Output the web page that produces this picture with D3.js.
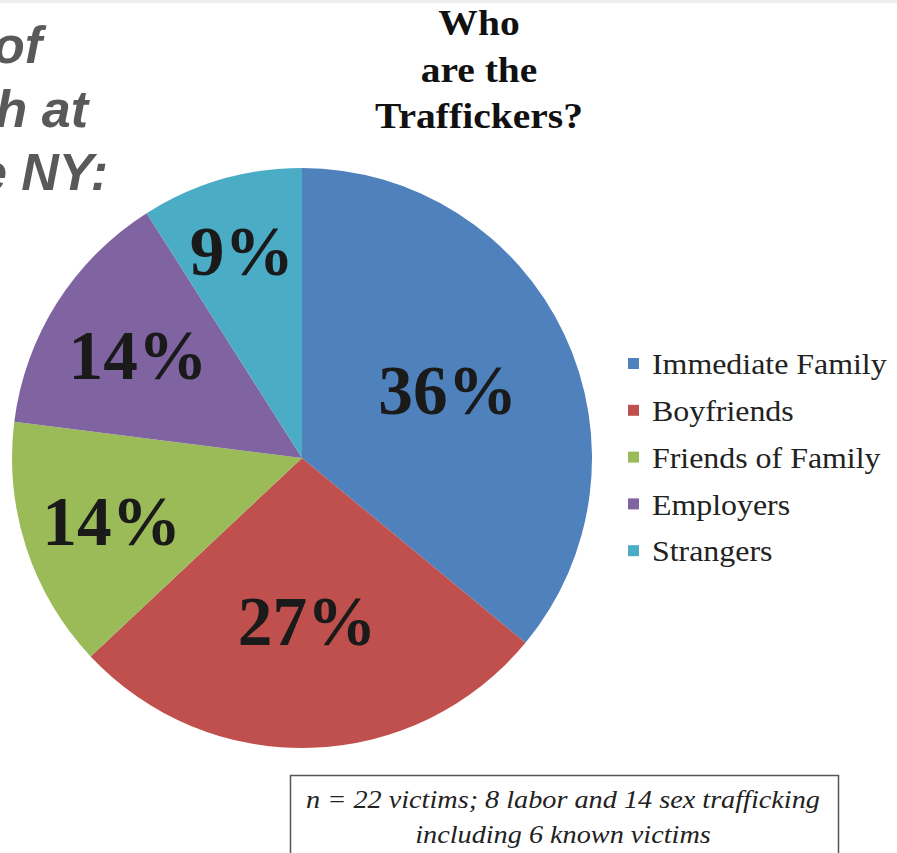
<!DOCTYPE html>
<html><head><meta charset="utf-8">
<script src="https://cdn.jsdelivr.net/npm/d3@7"></script>
<style>body{margin:0;background:#fff}svg{display:block}</style>
</head><body>
<svg id="c" width="897" height="853"></svg>
<script>
const categories = ["Immediate Family","Boyfriends","Friends of Family","Employers","Strangers"];
const percents = [36,27,14,14,9];
const colors = ["#4F81BD","#C0504D","#9BBB59","#8064A2","#4BACC6"];
const titleLines = ["Who","are the","Traffickers?"];
const slideTitleFragments = ["of","h at","e NY:"];
const noteLines = ["n = 22 victims; 8 labor and 14 sex trafficking","including 6 known victims"];
const labelRadiusFrac = [0.555,0.56,0.69,0.67,0.745];

const svg = d3.select("#c");
svg.append("rect").attr("x",0).attr("y",0).attr("width",897).attr("height",3).attr("fill","#eeeeee");

// slide title fragments (cut off at the left edge, as in the reference)
svg.selectAll("text.st").data(slideTitleFragments).join("text")
  .attr("x",(d,i)=>[42,88,108][i]).attr("y",(d,i)=>63+i*63.5)
  .attr("text-anchor","end")
  .attr("font-family","Liberation Sans, Arial, sans-serif")
  .attr("font-weight","bold").attr("font-style","italic")
  .attr("font-size",52).attr("fill","#595959").text(d=>d);

// chart title
svg.selectAll("text.t").data(titleLines).join("text")
  .attr("transform",(d,i)=>`translate(479,${35+i*46.5}) scale(1.13,1)`)
  .attr("text-anchor","middle")
  .attr("font-family","Liberation Serif, Times New Roman, serif")
  .attr("font-weight","bold").attr("font-size",35).attr("fill","#111").text(d=>d);

const cx=302, cy=458, R=290;
const pie = d3.pie().sort(null).value(d=>d);
const arcs = pie(percents);
const arc = d3.arc().innerRadius(0).outerRadius(R);
const g = svg.append("g").attr("transform",`translate(${cx},${cy})`);
g.selectAll("path").data(arcs).join("path")
  .attr("d",arc).attr("fill",(d,i)=>colors[i]);

g.selectAll("text.lbl").data(arcs).join("text")
  .attr("transform",(d,i)=>{
    const r=R*labelRadiusFrac[i];
    const a=(d.startAngle+d.endAngle)/2;
    return `translate(${r*Math.sin(a)},${-r*Math.cos(a)}) scale(1.02,1.04)`;
  })
  .attr("text-anchor","middle").attr("dy","0.35em")
  .attr("font-family","Liberation Serif, Times New Roman, serif")
  .attr("font-weight","bold").attr("font-size",68).attr("fill","#1a1a1a")
  .text((d,i)=>percents[i]+"%");

// legend
const lg = svg.append("g").attr("transform","translate(628,364)");
const rows = lg.selectAll("g").data(categories).join("g")
  .attr("transform",(d,i)=>`translate(0,${i*46.8})`);
rows.append("rect").attr("x",0).attr("y",-6).attr("width",11).attr("height",11)
  .attr("fill",(d,i)=>colors[i]);
rows.append("text").attr("transform","translate(24,0) scale(1.1,1)").attr("dy","0.35em")
  .attr("font-family","Liberation Serif, Times New Roman, serif")
  .attr("font-size",29).attr("fill","#222").text(d=>d);

// note box
svg.append("rect").attr("x",290.5).attr("y",775.5).attr("width",548).attr("height",100)
  .attr("fill","#fff").attr("stroke","#555").attr("stroke-width",1.5);
svg.selectAll("text.n").data(noteLines).join("text")
  .attr("transform",(d,i)=>`translate(563,${808+i*35}) scale(1.13,1)`)
  .attr("text-anchor","middle")
  .attr("font-family","Liberation Serif, Times New Roman, serif")
  .attr("font-style","italic").attr("font-size",25).attr("fill","#222").text(d=>d);
</script>
</body></html>
